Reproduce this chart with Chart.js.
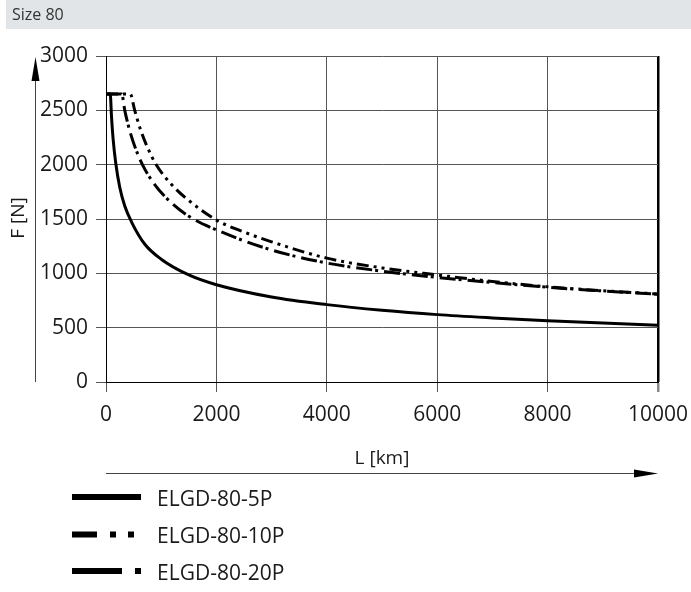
<!DOCTYPE html>
<html>
<head>
<meta charset="utf-8">
<script src="https://cdn.jsdelivr.net/npm/chart.js"></script>
<style>
  body { margin: 0; background: #fff; }
  #wrap { width: 691px; height: 592px; position: relative; }
</style>
</head>
<body>
<div id="wrap"><canvas id="myChart" width="691" height="592"></canvas></div>
<script>
// L [km] / F [N]
const lenP5 = [0, 77, 100, 130, 175, 250, 340, 470, 700, 1000, 1500, 2000, 3000, 4000, 5000, 6000, 7000, 8000, 9000, 10000];
const forceP5 = [2650, 2650, 2440, 2230, 2020, 1790, 1620, 1465, 1270, 1130, 985, 895, 782, 712, 660, 620, 590, 564, 542, 522];

const lenP10 = [0, 440, 520, 620, 750, 910, 1200, 1500, 2000, 2500, 3000, 4000, 5000, 6000, 7000, 8000, 9000, 10000];
const forceP10 = [2650, 2650, 2500, 2330, 2160, 2000, 1810, 1670, 1490, 1380, 1290, 1140, 1050, 985, 925, 876, 840, 810];

const lenP20 = [0, 285, 340, 420, 520, 660, 850, 1100, 1500, 2000, 3000, 4000, 5000, 6000, 7000, 8000, 9000, 10000];
const forceP20 = [2650, 2650, 2500, 2330, 2170, 2000, 1840, 1690, 1525, 1400, 1215, 1095, 1020, 962, 915, 872, 838, 808];

const seriesNames = ["ELGD-80-5P", "ELGD-80-10P", "ELGD-80-20P"];
const xTicks = [0, 2000, 4000, 6000, 8000, 10000];
const yTicks = [0, 500, 1000, 1500, 2000, 2500, 3000];

const FONT = "'Open Sans', sans-serif";
Chart.defaults.font.family = FONT;

function pts(xs, ys) {
  return xs.map((x, i) => ({ x: x, y: ys[i] }));
}

// legend dash patterns (drawn bigger than on the curves)
const legendDash = [[], [25, 13, 6, 12, 6, 100], [50, 13, 6, 100]];

const extras = {
  id: 'extras',
  beforeDraw(chart) {
    const c = chart.ctx;
    c.save();
    c.fillStyle = '#fff';
    c.fillRect(0, 0, chart.width, chart.height);
    c.fillStyle = '#e1e5e8';
    c.fillRect(6, 0, 685, 29);
    c.fillStyle = '#333';
    c.font = "16px " + FONT;
    c.textBaseline = 'middle';
    c.fillText("Size 80", 12, 15);
    c.restore();
  },
  afterDraw(chart) {
    const c = chart.ctx;
    const a = chart.chartArea;
    c.save();
    c.strokeStyle = '#444';
    c.fillStyle = '#000';
    c.lineWidth = 1;
    // y arrow
    c.beginPath();
    c.moveTo(35.5, a.bottom);
    c.lineTo(35.5, 75);
    c.stroke();
    c.beginPath();
    c.moveTo(35.5, 57);
    c.lineTo(31.5, 81);
    c.lineTo(39.5, 81);
    c.closePath();
    c.fill();
    // x arrow
    c.beginPath();
    c.moveTo(a.left, 473.5);
    c.lineTo(640, 473.5);
    c.stroke();
    c.beginPath();
    c.moveTo(a.right, 473.5);
    c.lineTo(a.right - 24, 469.5);
    c.lineTo(a.right - 24, 477.5);
    c.closePath();
    c.fill();

    // axis titles
    c.fillStyle = '#1a1a1a';
    c.font = "19px " + FONT;
    c.textAlign = 'center';
    c.textBaseline = 'middle';
    c.fillText("L [km]", (a.left + a.right) / 2, 459);
    c.save();
    c.translate(19, 218);
    c.rotate(-Math.PI / 2);
    c.fillText("F [N]", 0, 0);
    c.restore();

    // legend
    const rows = [497, 534.5, 571];
    c.textAlign = 'left';
    c.font = "21px " + FONT;
    rows.forEach((y, i) => {
      c.strokeStyle = '#000';
      c.lineWidth = 6;
      c.lineCap = 'butt';
      c.setLineDash(legendDash[i]);
      c.beginPath();
      c.moveTo(72, y);
      c.lineTo(141, y);
      c.stroke();
      c.setLineDash([]);
      c.fillStyle = '#1a1a1a';
      c.fillText(seriesNames[i], 157, y + 3);
    });
    c.restore();
  }
};

new Chart("myChart", {
  type: "line",
  data: {
    datasets: [{
      label: seriesNames[0],
      data: pts(lenP5, forceP5),
      borderColor: "#000",
      borderWidth: 3,
      borderDash: []
    }, {
      label: seriesNames[1],
      data: pts(lenP10, forceP10),
      borderColor: "#000",
      borderWidth: 3,
      borderDash: [12, 5, 3, 5, 3, 5]
    }, {
      label: seriesNames[2],
      data: pts(lenP20, forceP20),
      borderColor: "#000",
      borderWidth: 3,
      borderDash: [16, 3, 3, 6]
    }]
  },
  options: {
    responsive: false,
    animation: false,
    layout: { padding: { left: 0, top: 56, right: 33, bottom: 0 } },
    elements: {
      point: { radius: 0 },
      line: { cubicInterpolationMode: 'monotone', fill: false }
    },
    plugins: {
      legend: { display: false },
      tooltip: { enabled: false }
    },
    scales: {
      x: {
        type: 'linear',
        min: 0,
        max: 10000,
        afterFit(scale) {
          scale.height = 210;
          scale.paddingLeft = 0;
          scale.paddingRight = 0;
        },
        afterBuildTicks(scale) { scale.ticks = xTicks.map(v => ({ value: v })); },
        ticks: {
          color: '#1a1a1a', font: { size: 21 }, padding: 10, maxRotation: 0,
          callback: v => String(v)
        },
        grid: {
          color: ctx => ctx.tick && ctx.tick.value === 10000 ? '#000' : '#555',
          tickColor: ctx => ctx.tick && ctx.tick.value === 10000 ? '#888' : '#555',
          lineWidth: ctx => ctx.tick && ctx.tick.value === 10000 ? 2.5 : 1,
          tickLength: 10
        },
        border: { display: true, color: '#000', width: 1 }
      },
      y: {
        min: 0,
        max: 3000,
        afterFit(scale) {
          scale.width = 106;
          scale.paddingTop = 0;
          scale.paddingBottom = 0;
        },
        afterBuildTicks(scale) { scale.ticks = yTicks.map(v => ({ value: v })); },
        ticks: {
          color: '#1a1a1a', font: { size: 21 }, padding: 8,
          callback: v => String(v)
        },
        grid: {
          color: ctx => ctx.tick && ctx.tick.value === 0 ? '#000' : '#555',
          tickColor: '#555',
          lineWidth: 1,
          tickLength: 10
        },
        border: { display: true, color: '#000', width: 1 }
      }
    }
  },
  plugins: [extras]
});
</script>
</body>
</html>
